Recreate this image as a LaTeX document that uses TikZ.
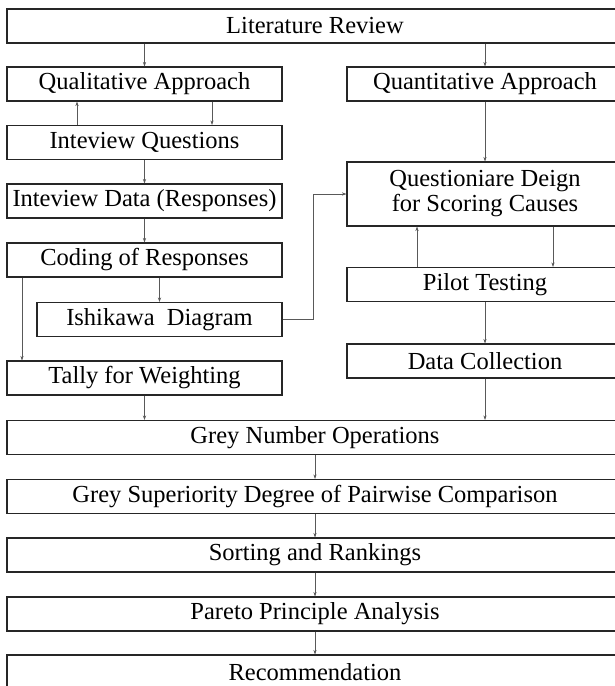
\documentclass[tikz,border=0pt]{standalone}
\usepackage{fontspec}
\setmainfont{Liberation Serif}
\usetikzlibrary{arrows.meta,calc}

\tikzset{
  stepbox/.style={draw=black!85, line width=1.1pt, inner sep=0pt,
    minimum height=34pt, align=center,
    font=\fontsize{24.5}{25}\selectfont},
  arr/.style={draw=black!65, line width=0.6pt,
    -{Stealth[length=4.5pt,width=3.2pt]}},
}

\begin{document}
\begin{tikzpicture}[x=1pt,y=-1pt]
  \clip (0,0) rectangle (615,686);
  \fill[white] (0,0) rectangle (615,686);

  % top box
  \node[stepbox, minimum width=616pt] (lr) at (315,26) {Literature Review};

  % qualitative branch
  \node[stepbox, minimum width=275pt] (qual)   at (144.5,84)    {Qualitative Approach};
  \node[stepbox, minimum width=275pt] (iq)     at (144.5,142.5) {Inteview Questions};
  \node[stepbox, minimum width=275pt] (id)     at (144.5,201)   {Inteview Data (Responses)};
  \node[stepbox, minimum width=275pt] (coding) at (144.5,260)   {Coding of Responses};
  \node[stepbox, minimum width=245pt] (ish)    at (159.5,319.5) {Ishikawa\ \ Diagram};
  \node[stepbox, minimum width=275pt] (tally)  at (144.5,378)   {Tally for Weighting};

  % quantitative branch
  \node[stepbox, minimum width=276pt] (quant) at (485,84) {Quantitative Approach};
  \node[stepbox, minimum width=276pt, minimum height=64pt] (qd) at (485,194)
    {Questioniare Deign\\for Scoring Causes};
  \node[stepbox, minimum width=276pt] (pilot) at (485,284.5) {Pilot Testing};
  \node[stepbox, minimum width=276pt] (dc)    at (485,361)   {Data Collection};

  % merged chain
  \node[stepbox, minimum width=616pt] (gno) at (315,437.5) {Grey Number Operations};
  \node[stepbox, minimum width=616pt] (gsd) at (315,496.5) {Grey Superiority Degree of Pairwise Comparison};
  \node[stepbox, minimum width=616pt] (sr)  at (315,555)   {Sorting and Rankings};
  \node[stepbox, minimum width=616pt] (par) at (315,614)   {Pareto Principle Analysis};
  \node[stepbox, minimum width=616pt] (rec) at (315,672)   {Recommendation};

  % connectors, qualitative side
  \draw[arr] (lr.south -| qual.north) -- (qual.north);
  \draw[arr] ([xshift=-67.5pt]iq.north) -- ([xshift=-67.5pt]qual.south);
  \draw[arr] ([xshift=67.5pt]qual.south) -- ([xshift=67.5pt]iq.north);
  \draw[arr] (iq.south) -- (id.north);
  \draw[arr] (id.south) -- (coding.north);
  \draw[arr] (coding.south -| ish.north) -- (ish.north);
  \draw[arr] ([xshift=-122.5pt]coding.south) -- ([xshift=-122.5pt]tally.north);
  \draw[arr] (ish.east) -- ++(31,0) |- (qd.west);
  \draw[arr] (tally.south) -- (tally.south |- gno.north);

  % connectors, quantitative side
  \draw[arr] (lr.south -| quant.north) -- (quant.north);
  \draw[arr] (quant.south) -- (qd.north);
  \draw[arr] ([xshift=-68pt]pilot.north) -- ([xshift=-68pt]qd.south);
  \draw[arr] ([xshift=68pt]qd.south) -- ([xshift=68pt]pilot.north);
  \draw[arr] (pilot.south) -- (dc.north);
  \draw[arr] (dc.south) -- (dc.south |- gno.north);

  % connectors, common chain
  \draw[arr] (gno.south) -- (gsd.north);
  \draw[arr] (gsd.south) -- (sr.north);
  \draw[arr] (sr.south) -- (par.north);
  \draw[arr] (par.south) -- (rec.north);
\end{tikzpicture}
\end{document}
